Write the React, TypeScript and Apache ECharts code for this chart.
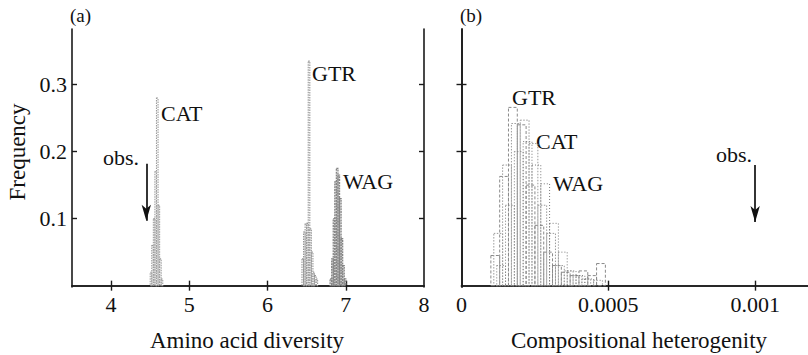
import React, { useEffect, useRef } from "react";
import * as echarts from "echarts";

// ---- Panel (a): amino acid diversity histograms (bin start, frequency) ----
const binWidthA = 0.02;
const catStartA = 4.5;
const catFreqA = [0.02, 0.06, 0.1, 0.17, 0.28, 0.12, 0.04, 0.01];
const gtrStartA = 6.44;
const gtrFreqA = [0.04, 0.08, 0.092, 0.093, 0.335, 0.085, 0.05, 0.02, 0.015, 0.01];
const wagStartA = 6.8;
const wagFreqA = [0.01, 0.04, 0.1, 0.155, 0.175, 0.165, 0.13, 0.07, 0.03, 0.01];
const obsA = 4.45;

// ---- Panel (b): compositional heterogeneity histograms ----
const binWidthB = 0.00003;
const gtrStartB = 0.0001;
const gtrFreqB = [0.045, 0.163, 0.266, 0.24, 0.15, 0.09, 0.05, 0.03, 0.02, 0.015, 0.022, 0.015, 0.033];
const catStartB = 0.00011;
const catFreqB = [0.078, 0.18, 0.242, 0.247, 0.212, 0.12, 0.078, 0.03, 0.022, 0.015, 0.01];
const wagStartB = 0.00012;
const wagFreqB = [0.03, 0.12, 0.2, 0.215, 0.18, 0.152, 0.093, 0.05, 0.022, 0.015, 0.01, 0.008];
const obsB = 0.001;

// ---- ticks / labels ----
const xTicksA = [4, 5, 6, 7];
const xLabelsA = [4, 5, 6, 7, 8];
const xTicksB = [0.0005, 0.001];
const xLabelsB = [0, 0.0005, 0.001];
const yTicks = [0.1, 0.2, 0.3];

const FONT = '"Liberation Serif", "Times New Roman", serif';

function bins(start: number, w: number, freq: number[]) {
  return freq.map((f, i) => [start + i * w, start + (i + 1) * w, f]);
}

function histSeries(data: number[][], axis: number, color: string, dash: number[], lw: number) {
  return {
    type: "custom",
    xAxisIndex: axis,
    yAxisIndex: axis,
    silent: true,
    encode: { x: [0, 1], y: 2 },
    data,
    renderItem: (params: any, api: any) => {
      const p0 = api.coord([api.value(0), 0]);
      const p1 = api.coord([api.value(1), api.value(2)]);
      return {
        type: "rect",
        shape: { x: p0[0], y: p1[1], width: p1[0] - p0[0], height: p0[1] - p1[1] },
        style: { fill: "none", stroke: color, lineWidth: lw, lineDash: dash },
      };
    },
  };
}

function arrowSeries(axis: number, x: number, y0: number, y1: number) {
  return {
    type: "line",
    xAxisIndex: axis,
    yAxisIndex: axis,
    data: [],
    silent: true,
    markLine: {
      silent: true,
      symbol: ["none", "arrow"],
      symbolSize: [7, 16],
      label: { show: false },
      emphasis: { disabled: true },
      lineStyle: { color: "#111", width: 1.7, type: "solid" },
      data: [[{ coord: [x, y0] }, { coord: [x, y1] }]],
    },
  };
}

const axisLine = { show: true, lineStyle: { color: "#1a1a1a", width: 1.6 } };
const tickStyle = { color: "#1a1a1a", width: 1.4 };
const labelStyle = { fontFamily: FONT, fontSize: 22, color: "#111" };

function xAxis(grid: number, pos: string, min: number, max: number, ticks: number[], labels: number[] | null) {
  return {
    type: "value",
    gridIndex: grid,
    position: pos,
    min,
    max,
    axisLine,
    splitLine: { show: false },
    axisTick: { show: true, inside: true, length: 5, customValues: ticks, lineStyle: tickStyle },
    axisLabel: labels
      ? { show: true, customValues: labels, margin: 6, ...labelStyle, formatter: (v: number) => String(v) }
      : { show: false },
  };
}

function yAxis(grid: number, pos: string, labels: boolean) {
  return {
    type: "value",
    gridIndex: grid,
    position: pos,
    min: -0.002,
    max: 0.383,
    axisLine,
    splitLine: { show: false },
    axisTick: { show: true, inside: true, length: 5, customValues: yTicks, lineStyle: tickStyle },
    axisLabel: labels
      ? { show: true, customValues: yTicks, margin: 5, ...labelStyle, formatter: (v: number) => v.toFixed(1) }
      : { show: false },
  };
}

function txt(text: string, x: number, y: number, size = 22, align = "left", rotation = 0) {
  return {
    type: "text",
    x,
    y,
    rotation,
    silent: true,
    style: { text, fill: "#111", font: `${size}px ${FONT}`, align, verticalAlign: "middle" },
  };
}

export default function App() {
  const ref = useRef<HTMLDivElement>(null);
  useEffect(() => {
    if (!ref.current) return;
    const chart = echarts.init(ref.current, null, { renderer: "svg" });
    chart.setOption({
      animation: false,
      backgroundColor: "#fff",
      grid: [
        { left: 72, top: 29, width: 352, height: 258 },
        { left: 461.5, top: 29, width: 348.5, height: 258 },
      ],
      xAxis: [
        xAxis(0, "bottom", 3.5, 8, xTicksA, xLabelsA),
        xAxis(0, "top", 3.5, 8, xTicksA, null),
        xAxis(1, "bottom", 0, 0.00118, xTicksB, xLabelsB),
        xAxis(1, "top", 0, 0.00118, xTicksB, null),
      ],
      yAxis: [yAxis(0, "left", true), yAxis(0, "right", false), yAxis(1, "left", false), yAxis(1, "right", false)],
      series: [
        histSeries(bins(catStartA, binWidthA, catFreqA), 0, "#9c9c9c", [1.5, 1], 1.1),
        histSeries(bins(gtrStartA, binWidthA, gtrFreqA), 0, "#979797", [1.5, 1], 1.1),
        histSeries(bins(wagStartA, binWidthA, wagFreqA), 0, "#858585", [2, 0.8], 1.3),
        histSeries(bins(gtrStartB, binWidthB, gtrFreqB), 2, "#8a8a8a", [3, 2], 1),
        histSeries(bins(catStartB, binWidthB, catFreqB), 2, "#9a9a9a", [1.5, 1.5], 1),
        histSeries(bins(wagStartB, binWidthB, wagFreqB), 2, "#7a7a7a", [1, 2], 1),
        arrowSeries(0, obsA, 0.182, 0.097),
        arrowSeries(2, obsB, 0.18, 0.095),
      ],
      graphic: [
        txt("(a)", 70, 15, 19),
        txt("(b)", 460, 15, 19),
        txt("Frequency", 17, 152, 23, "center", Math.PI / 2),
        txt("Amino acid diversity", 247, 340, 23, "center"),
        txt("Compositional heterogenity", 639, 340, 23, "center"),
        txt("CAT", 161, 113),
        txt("GTR", 312, 73),
        txt("WAG", 343, 181),
        txt("obs.", 103, 157),
        txt("GTR", 512, 97),
        txt("CAT", 536, 141),
        txt("WAG", 553, 183),
        txt("obs.", 716, 154),
      ],
    });
    return () => chart.dispose();
  }, []);
  return <div ref={ref} style={{ position: "fixed", left: 0, top: 0, width: 808, height: 355 }} />;
}
